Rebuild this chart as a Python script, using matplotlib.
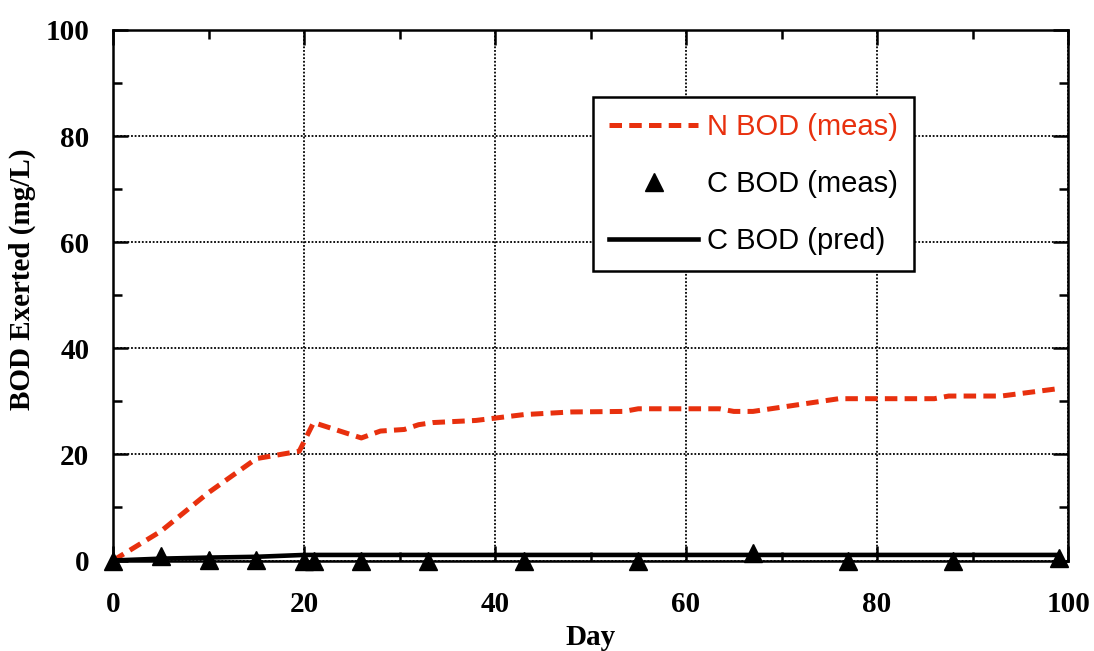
#!/usr/bin/env python3
"""BOD exerted vs day: N BOD measured, C BOD measured and predicted."""

import matplotlib

matplotlib.use("Agg")
import matplotlib.pyplot as plt
from matplotlib.ticker import MultipleLocator

# N BOD (meas), red dashed line
dias_n = [0, 5, 10, 15, 19.5, 21, 26, 28, 30.5, 32, 33.5, 38, 43, 48, 53.5,
          55, 63.5, 65, 67, 76, 86, 87.5, 93, 99]
bod_n = [0, 5.5, 12.8, 19.2, 20.6, 26.0, 23.1, 24.4, 24.7, 25.6, 26.0, 26.4,
         27.5, 28.0, 28.1, 28.6, 28.6, 28.1, 28.1, 30.5, 30.5, 31.0, 31.0, 32.4]

# C BOD (meas), triangles
dias_c = [0, 5, 10, 15, 20, 21, 26, 33, 43, 55, 67, 77, 88, 99]
bod_c = [0, 0.9, 0.1, 0.1, 0, 0, 0, 0, 0, 0, 1.5, 0, 0, 0.5]

# C BOD (pred), solid black line
dias_pred = [0, 5, 10, 15, 20, 99]
bod_pred = [0, 0.35, 0.55, 0.7, 1.05, 1.05]

ROJO = "#e8300e"


def main() -> None:
    fig = plt.figure(figsize=(10.94, 6.51), dpi=100)
    ax = fig.add_axes([0.1033, 0.139, 0.873, 0.815])

    ax.plot(dias_n, bod_n, color=ROJO, linewidth=3.6,
            linestyle=(0, (2.5, 1.45)), label="N BOD (meas)", zorder=3)
    ax.plot(dias_c, bod_c, linestyle="none", marker="^", markersize=13,
            color="black", label="C BOD (meas)", clip_on=False, zorder=5)
    ax.plot(dias_pred, bod_pred, color="black", linewidth=3.3,
            label="C BOD (pred)", zorder=4)

    ax.set_xlim(0, 100)
    ax.set_ylim(0, 100)
    ax.xaxis.set_major_locator(MultipleLocator(20))
    ax.xaxis.set_minor_locator(MultipleLocator(10))
    ax.yaxis.set_major_locator(MultipleLocator(20))
    ax.yaxis.set_minor_locator(MultipleLocator(10))

    ax.grid(True, which="major", color="black", linewidth=1.3,
            linestyle=(0, (1, 1)), zorder=1)

    for s in ax.spines.values():
        s.set_linewidth(1.8)

    ax.tick_params(which="both", direction="in", top=True, right=True,
                   width=1.8)
    ax.tick_params(which="major", length=11)
    ax.tick_params(which="minor", length=6.5)
    ax.tick_params(axis="x", which="major", pad=22)
    ax.tick_params(axis="y", which="major", pad=17)

    fuente_ejes = {"family": "Liberation Serif", "weight": "bold", "size": 21}
    for lab in ax.get_xticklabels() + ax.get_yticklabels():
        lab.set_fontfamily("Liberation Serif")
        lab.set_fontweight("bold")
        lab.set_fontsize(21)

    ax.set_xlabel("Day", fontdict=fuente_ejes)
    ax.set_ylabel("BOD Exerted (mg/L)", fontdict=fuente_ejes)
    ax.xaxis.set_label_coords(0.5, -0.12)
    ax.yaxis.set_label_coords(-0.081, 0.531)

    leg = ax.legend(
        loc="upper left",
        bbox_to_anchor=(0.5026, 0.8737),
        prop={"family": "Liberation Sans", "size": 21},
        frameon=True,
        fancybox=False,
        framealpha=1,
        edgecolor="black",
        handlelength=3.05,
        handletextpad=0.3,
        labelspacing=1.0,
        borderpad=0.55,
        borderaxespad=0,
    )
    leg.get_frame().set_linewidth(1.8)
    leg.set_zorder(6)
    leg.get_texts()[0].set_color(ROJO)

    fig.savefig("out.png", dpi=100)
    plt.close(fig)


if __name__ == "__main__":
    main()
